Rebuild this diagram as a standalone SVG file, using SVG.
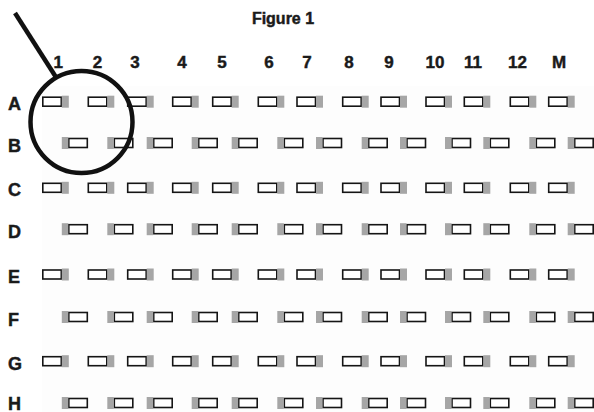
<svg xmlns="http://www.w3.org/2000/svg" xmlns:xlink="http://www.w3.org/1999/xlink" width="594" height="412" viewBox="0 0 594 412">
<style>
.t{font-family:"Liberation Sans",Arial,sans-serif;font-weight:bold;fill:#1a1a1a;stroke:#1a1a1a;stroke-width:0.45}
.col{font-size:17px;text-anchor:middle}
.row{font-size:18px}
.r{fill:#fff;stroke:#151515;stroke-width:1.6}
.g{fill:#a6a6a6}
</style>
<defs>
<g id="wo"><rect class="r" x="-19" y="-4.5" width="18.5" height="9"/><rect class="g" x="0" y="-6" width="7" height="12"/></g>
<g id="we"><rect class="r" x="7" y="-4.5" width="18.5" height="9"/><rect class="g" x="0" y="-6" width="6.5" height="12"/></g>
</defs>
<rect width="594" height="412" fill="#fff"/>
<rect x="42" y="86" width="552" height="326" fill="#fdfdfd"/>
<text class="t" x="283" y="24" font-size="16" text-anchor="middle">Figure 1</text>
<g id="columns" class="t col">
<text x="58.3" y="68">1</text><text x="97.5" y="68">2</text><text x="135" y="68">3</text><text x="182" y="68">4</text><text x="222" y="68">5</text><text x="269" y="68">6</text><text x="307" y="68">7</text><text x="349" y="68">8</text><text x="389" y="68">9</text><text x="435" y="68">10</text><text x="473" y="68">11</text><text x="517.5" y="68">12</text><text x="559" y="68">M</text>
</g>
<g id="rowA"><text class="t row" x="8" y="110">A</text>
<g transform="translate(0,101.7)"><use href="#wo" x="61.8"/><use href="#wo" x="107.3"/><use href="#wo" x="146.7"/><use href="#wo" x="191.7"/><use href="#wo" x="231.7"/><use href="#wo" x="277.3"/><use href="#wo" x="316"/><use href="#wo" x="361.7"/><use href="#wo" x="400"/><use href="#wo" x="445"/><use href="#wo" x="483.3"/><use href="#wo" x="529.3"/><use href="#wo" x="567.7"/></g></g>
<g id="rowB"><text class="t row" x="8" y="151.5">B</text>
<g transform="translate(0,143)"><use href="#we" x="61.8"/><use href="#we" x="107.3"/><use href="#we" x="146.7"/><use href="#we" x="191.7"/><use href="#we" x="231.7"/><use href="#we" x="277.3"/><use href="#we" x="316"/><use href="#we" x="361.7"/><use href="#we" x="400"/><use href="#we" x="445"/><use href="#we" x="483.3"/><use href="#we" x="529.3"/><use href="#we" x="567.7"/></g></g>
<g id="rowC"><text class="t row" x="8" y="196.3">C</text>
<g transform="translate(0,187.8)"><use href="#wo" x="61.8"/><use href="#wo" x="107.3"/><use href="#wo" x="146.7"/><use href="#wo" x="191.7"/><use href="#wo" x="231.7"/><use href="#wo" x="277.3"/><use href="#wo" x="316"/><use href="#wo" x="361.7"/><use href="#wo" x="400"/><use href="#wo" x="445"/><use href="#wo" x="483.3"/><use href="#wo" x="529.3"/><use href="#wo" x="567.7"/></g></g>
<g id="rowD"><text class="t row" x="8" y="237.7">D</text>
<g transform="translate(0,229.2)"><use href="#we" x="61.8"/><use href="#we" x="107.3"/><use href="#we" x="146.7"/><use href="#we" x="191.7"/><use href="#we" x="231.7"/><use href="#we" x="277.3"/><use href="#we" x="316"/><use href="#we" x="361.7"/><use href="#we" x="400"/><use href="#we" x="445"/><use href="#we" x="483.3"/><use href="#we" x="529.3"/><use href="#we" x="567.7"/></g></g>
<g id="rowE"><text class="t row" x="8" y="283">E</text>
<g transform="translate(0,274.5)"><use href="#wo" x="61.8"/><use href="#wo" x="107.3"/><use href="#wo" x="146.7"/><use href="#wo" x="191.7"/><use href="#wo" x="231.7"/><use href="#wo" x="277.3"/><use href="#wo" x="316"/><use href="#wo" x="361.7"/><use href="#wo" x="400"/><use href="#wo" x="445"/><use href="#wo" x="483.3"/><use href="#wo" x="529.3"/><use href="#wo" x="567.7"/></g></g>
<g id="rowF"><text class="t row" x="8" y="325.5">F</text>
<g transform="translate(0,317)"><use href="#we" x="61.8"/><use href="#we" x="107.3"/><use href="#we" x="146.7"/><use href="#we" x="191.7"/><use href="#we" x="231.7"/><use href="#we" x="277.3"/><use href="#we" x="316"/><use href="#we" x="361.7"/><use href="#we" x="400"/><use href="#we" x="445"/><use href="#we" x="483.3"/><use href="#we" x="529.3"/><use href="#we" x="567.7"/></g></g>
<g id="rowG"><text class="t row" x="8" y="369.7">G</text>
<g transform="translate(0,361.2)"><use href="#wo" x="61.8"/><use href="#wo" x="107.3"/><use href="#wo" x="146.7"/><use href="#wo" x="191.7"/><use href="#wo" x="231.7"/><use href="#wo" x="277.3"/><use href="#wo" x="316"/><use href="#wo" x="361.7"/><use href="#wo" x="400"/><use href="#wo" x="445"/><use href="#wo" x="483.3"/><use href="#wo" x="529.3"/><use href="#wo" x="567.7"/></g></g>
<g id="rowH"><text class="t row" x="8" y="409.5">H</text>
<g transform="translate(0,403)"><use href="#we" x="61.8"/><use href="#we" x="107.3"/><use href="#we" x="146.7"/><use href="#we" x="191.7"/><use href="#we" x="231.7"/><use href="#we" x="277.3"/><use href="#we" x="316"/><use href="#we" x="361.7"/><use href="#we" x="400"/><use href="#we" x="445"/><use href="#we" x="483.3"/><use href="#we" x="529.3"/><use href="#we" x="567.7"/></g></g>
<g id="highlight" fill="none" stroke="#111" stroke-width="4.5">
<line x1="15" y1="13" x2="56.5" y2="78"/>
<circle cx="81.5" cy="122" r="51"/>
</g>
</svg>
